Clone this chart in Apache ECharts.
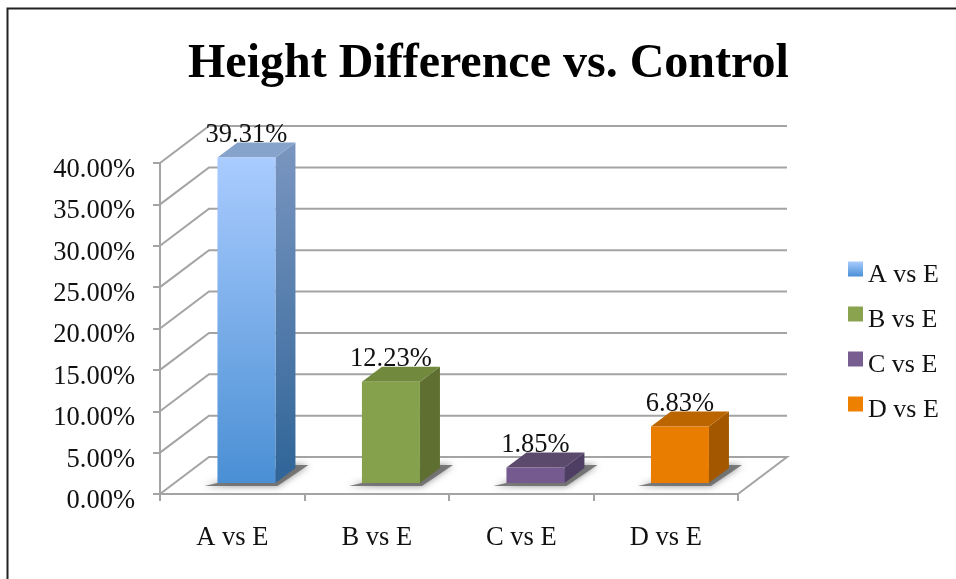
<!DOCTYPE html>
<html><head><meta charset="utf-8">
<style>html,body{margin:0;padding:0;background:#fff}#c{width:956px;height:579px}</style>
<script src="https://cdn.jsdelivr.net/npm/echarts@6/dist/echarts.min.js"></script>
</head><body><div id="c"></div>
<script>
var categories = ['A vs E','B vs E','C vs E','D vs E'];
var values = [39.31,12.23,1.85,6.83];
var yTicks = [0,5,10,15,20,25,30,35,40];
var titleText = 'Height Difference vs. Control';

var serif = '"Liberation Serif","Times New Roman",serif';
var G = echarts.graphic.LinearGradient;
function grad(a,b){return new G(0,0,0,1,[{offset:0,color:a},{offset:1,color:b}]);}
var palette = [
 {front:grad('#aaccff','#4a8fd4'), side:grad('#7a96c0','#2f6498'), top:'#86a3cb', legend:grad('#a9cbfd','#4a90d6')},
 {front:'#86a14c', side:'#5f6f31', top:'#70893c', legend:'#8aa34e'},
 {front:'#745a8e', side:'#4f3e63', top:'#5c4a6c', legend:'#775d90'},
 {front:'#e87d00', side:'#a35800', top:'#bb6500', legend:'#ee8000'}
];
var DX=49, DY=37, AXIS='#a4a4a4', FS=26.5;

function poly(pts,fill,extra){
  var s={fill:fill}; if(extra) for(var k in extra) s[k]=extra[k];
  return {type:'polygon',shape:{points:pts},style:s,silent:true};
}
function wallItem(params,api){
  var cs=params.coordSys, y=api.coord([0,api.value(1)])[1], x0=cs.x, x1=cs.x+cs.width;
  var st={stroke:AXIS,lineWidth:2,fill:'none'};
  var pts=[[x0,y],[x0+DX,y-DY],[x1+DX,y-DY]];
  if(api.value(1)===0) pts.push([x1,y]);
  return {type:'polyline',shape:{points:pts},style:st,silent:true};
}
function barItem(pal){
  return function(params,api){
    var i=api.value(0), v=api.value(1);
    var fd=0.3, hw=29, dx=20, dy=15;
    var c0=api.coord([i,0]), c1=api.coord([i,v]);
    var cx=c0[0]+DX*fd-0.5, yb=c0[1]-DY*fd, yt=c1[1]-DY*fd;
    var l=cx-hw, r=cx+hw;
    var label=v.toFixed(2)+'%';
    return {type:'group',children:[
      poly([[l-13,yb+3],[r+2,yb+3],[r+33,yb-18],[r+18,yb-18]],'rgba(105,105,105,0.85)',{shadowBlur:7,shadowColor:'rgba(105,105,105,0.9)'}),
      poly([[r,yt],[r+dx,yt-dy],[r+dx,yb-dy],[r,yb]],pal.side),
      poly([[l,yt],[l+dx,yt-dy],[r+dx,yt-dy],[r,yt]],pal.top),
      poly([[l,yt],[r,yt],[r,yb],[l,yb]],pal.front),
      {type:'text',silent:true,style:{text:label,x:cx,y:yt-dy+6,align:'center',verticalAlign:'bottom',font:FS+'px '+serif,fill:'#111'}}
    ]};
  };
}
var series=[{type:'custom',silent:true,z:1,renderItem:wallItem,data:yTicks.map(function(t){return [0,t];})}];
categories.forEach(function(n,i){
  series.push({type:'custom',name:n,z:3,renderItem:barItem(palette[i]),itemStyle:{color:palette[i].legend},data:[[i,values[i]]]});
});
var chart=echarts.init(document.getElementById('c'),null,{renderer:'canvas'});
chart.setOption({
  animation:false,
  backgroundColor:'#fff',
  title:{text:titleText,left:183,top:36,textStyle:{fontFamily:serif,fontWeight:'bold',fontSize:48,color:'#000'}},
  grid:{left:160,right:218,top:163,bottom:85},
  xAxis:{type:'category',data:categories,axisLine:{lineStyle:{color:AXIS,width:2}},axisTick:{show:true,length:7,lineStyle:{color:AXIS,width:2}},axisLabel:{margin:31,fontFamily:serif,fontSize:FS,color:'#111'}},
  yAxis:{type:'value',min:0,max:40,interval:5,splitLine:{show:false},axisLine:{show:true,lineStyle:{color:AXIS,width:2}},axisTick:{show:true,length:7,lineStyle:{color:AXIS,width:2}},axisLabel:{margin:25,fontFamily:serif,fontSize:FS,color:'#111',verticalAlign:'top',lineHeight:14,formatter:function(v){return v.toFixed(2)+'%';}}},
  legend:{orient:'vertical',left:848,top:250,padding:0,itemWidth:15,itemHeight:15,itemGap:7,icon:'rect',selectedMode:false,
    data:categories.map(function(n,i){return {name:n,itemStyle:{color:palette[i].legend}};}),
    formatter:function(n){return '{a|'+n+'}';},
    textStyle:{rich:{a:{fontFamily:serif,fontSize:26,color:'#111',lineHeight:26,padding:[12,0,0,0]}}}},
  graphic:[{type:'polyline',silent:true,shape:{points:[[7.5,579],[7.5,8.5],[956,8.5]]},style:{stroke:'#222',lineWidth:2,fill:'none'}}],
  series:series
});
</script></body></html>
